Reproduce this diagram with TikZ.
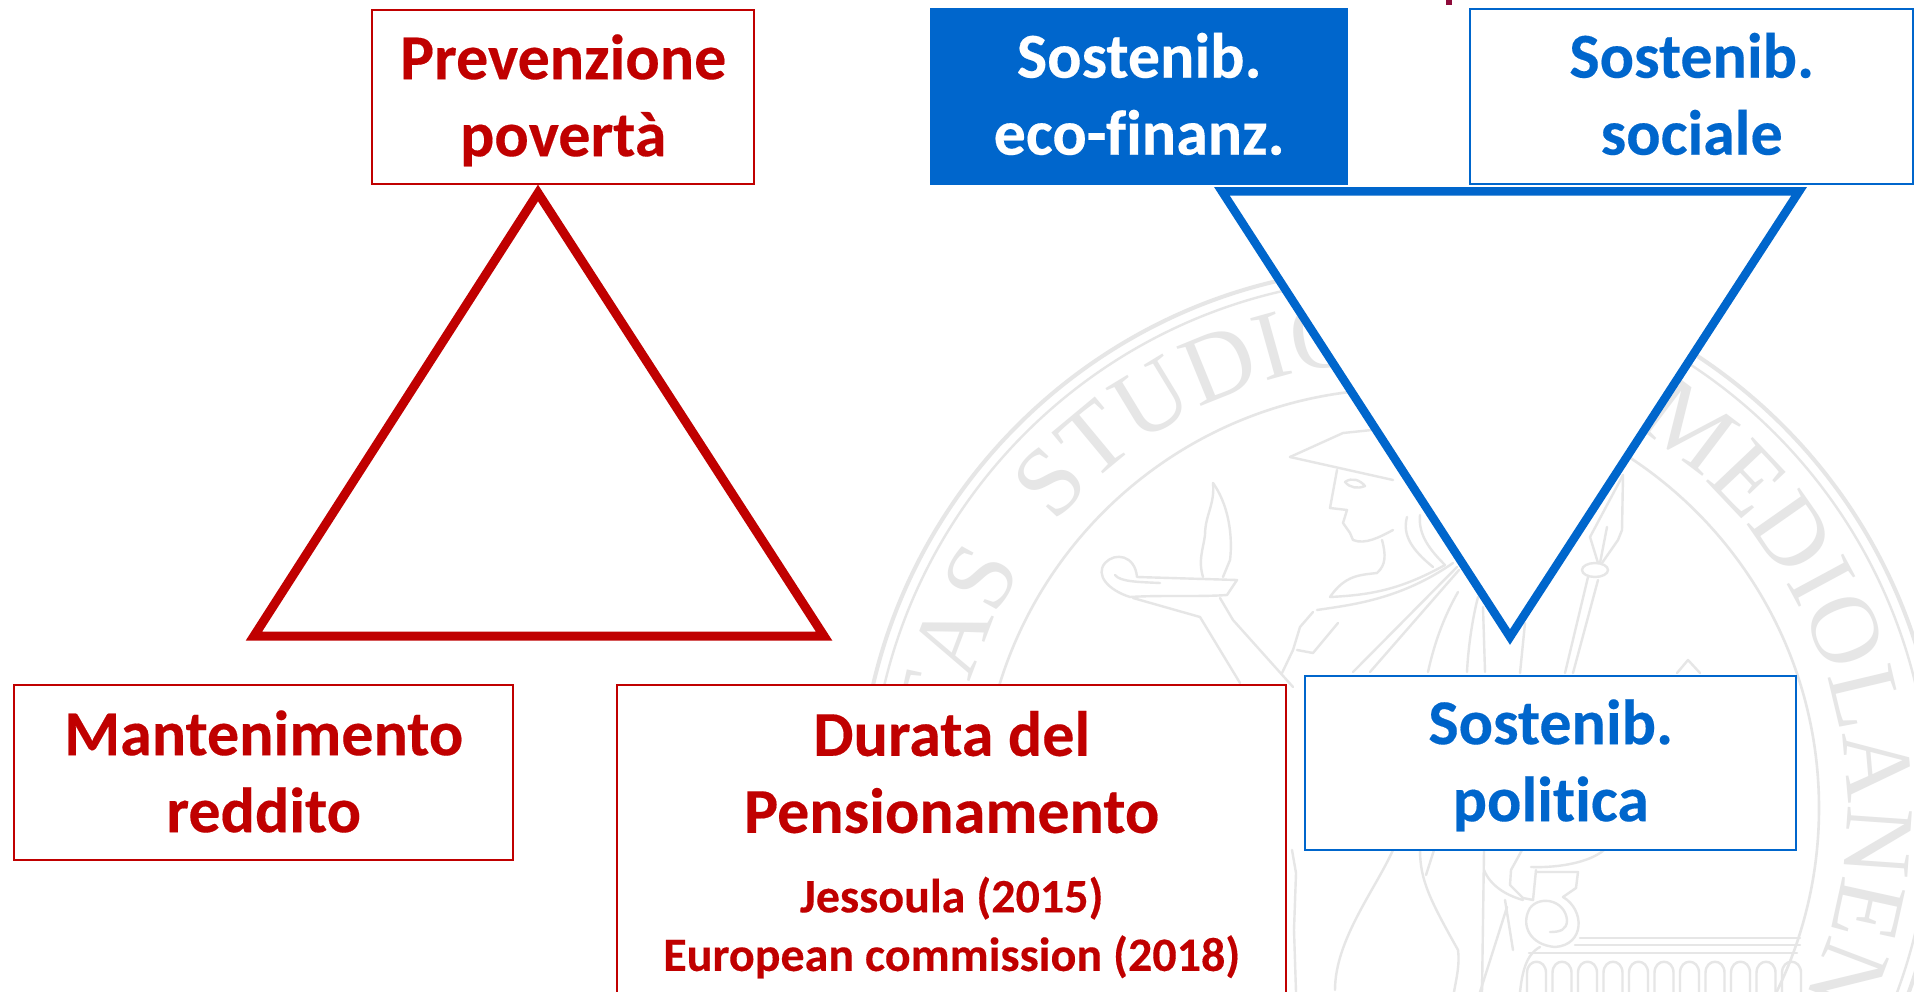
\documentclass[tikz,border=0pt]{standalone}
\usepackage{fontspec}
\setmainfont{Carlito}[Ligatures=NoCommon,BoldFeatures={FakeBold=0.25}]
\newfontfamily\sealfam{Liberation Serif}
\usetikzlibrary{decorations.text}
\definecolor{redc}{HTML}{C00000}
\definecolor{bluec}{HTML}{0066CC}
\definecolor{sealc}{HTML}{E6E6E6}
\definecolor{markc}{HTML}{8E0B3A}
\newcommand{\bigfont}{\fontsize{64}{77}\selectfont\bfseries}
\newcommand{\smallfont}{\fontsize{48}{57}\selectfont\bfseries}
\newcommand{\twolines}[3][50pt]{\rule{0pt}{#1}#2\\#3\rule[-11pt]{0pt}{11pt}}
\newcommand{\sealtext}{\fontsize{98}{98}\sealfam\color{sealc}}
\tikzset{
  x=1pt,y=-1pt,
  box/.style={draw,fill=white,line width=2.4pt,inner sep=0pt,align=center,anchor=north west,font=\bigfont},
  redbox/.style={box,draw=redc,text=redc},
  bluebox/.style={box,draw=bluec,text=bluec},
  tri/.style={miter limit=10,line join=miter,fill=white},
  seal/.style={draw=sealc,line width=2.4pt,line join=round,line cap=round},
}
\begin{document}
\begin{tikzpicture}
\useasboundingbox (0,0) rectangle (1914,992);
\clip (0,0) rectangle (1914,992);
\fill[white] (0,0) rectangle (1914,992);
% watermark seal
\coordinate (sc) at (1400,808);
\draw[sealc,line width=4pt] (sc) circle[radius=541pt];
\draw[sealc,line width=2.4pt] (sc) circle[radius=530pt];
\draw[sealc,line width=2.6pt] (sc) circle[radius=419pt];
\path[decorate,decoration={text along path,text={|\sealtext|UNIVERSITAS}}]
  (sc) ++(230:447pt) arc[start angle=230,end angle=140,radius=447pt];
\path[decorate,decoration={text along path,text={|\sealtext|STUDIORUM}}]
  (sc) ++(140.5:447pt) arc[start angle=140.5,end angle=60,radius=447pt];
\path[decorate,decoration={text along path,text={|\sealtext|MEDIOLANENSIS}}]
  (sc) ++(58.4:447pt) arc[start angle=58.4,end angle=-70,radius=447pt];
% helmet and face
\draw[seal] (1290,457) -- (1343,433) -- (1372,430);
\draw[seal] (1290,457) -- (1393,480);
\draw[seal] (1337,470) -- (1330,508) -- (1347,510) -- (1343,523) -- (1350,533) -- (1353,540) .. controls (1365,545) and (1380,537) .. (1393,530);
\draw[seal] (1345,482) .. controls (1352,477) and (1360,480) .. (1365,486) .. controls (1358,489) and (1350,488) .. (1345,482);
\draw[seal] (1382,540) .. controls (1386,555) and (1386,565) .. (1377,573) .. controls (1360,575) and (1345,575) .. (1330,597);
\draw[seal] (1317,610) .. controls (1350,605) and (1400,600) .. (1453,563);
\draw[seal] (1330,597) .. controls (1370,595) and (1400,590) .. (1445,565);
\draw[seal] (1407,517) .. controls (1402,535) and (1412,550) .. (1433,567);
\draw[seal] (1420,515) .. controls (1418,535) and (1430,550) .. (1445,565);
% lamp
\draw[seal] (1137,577) -- (1237,580) -- (1227,595) .. controls (1200,597) and (1160,595) .. (1130,597) .. controls (1108,590) and (1095,575) .. (1105,563) .. controls (1115,552) and (1135,555) .. (1137,577);
\draw[seal] (1115,575) .. controls (1120,582) and (1140,582) .. (1160,583);
\draw[seal] (1213,483) .. controls (1232,510) and (1232,545) .. (1230,560) -- (1223,577);
\draw[seal] (1213,483) .. controls (1215,505) and (1205,515) .. (1205,535) .. controls (1203,550) and (1198,560) .. (1203,577);
\draw[seal] (1133,598) -- (1200,617) -- (1240,683);
\draw[seal] (1220,598) -- (1233,620) -- (1293,687);
% arm and folds
\draw[seal] (1313,612) -- (1300,627) -- (1293,650) -- (1282,673);
\draw[seal] (1297,650) -- (1313,653) -- (1338,623);
\draw[seal] (1457,567) -- (1353,672);
\draw[seal] (1459,570) -- (1370,672);
\draw[seal] (1458,592) .. controls (1445,615) and (1435,640) .. (1428,672);
\draw[seal] (1478,597) .. controls (1472,620) and (1468,650) .. (1467,672);
\draw[seal] (1483,607) -- (1485,672);
% spear
\draw[seal] (1623,475) -- (1590,537) -- (1598,563);
\draw[seal] (1623,475) -- (1622,530) -- (1618,540) -- (1602,563);
\draw[seal] (1607,527) -- (1600,563);
\draw[seal] (1595,570) ellipse[x radius=13pt,y radius=7pt];
\draw[seal] (1588,577) -- (1565,673);
\draw[seal] (1598,580) -- (1573,673);
\draw[seal] (1525,623) -- (1520,673);
\draw[seal] (1677,673) -- (1688,660) -- (1700,673);
% lower figure
\draw[seal] (1292,850) -- (1296,873) -- (1294,930) -- (1296,992);
\draw[seal] (1393,850) .. controls (1375,890) and (1335,940) .. (1335,990);
\draw[seal] (1420,850) .. controls (1420,880) and (1430,900) .. (1458,950) .. controls (1460,965) and (1456,980) .. (1454,992);
\draw[seal] (1434,850) -- (1426,875);
\draw[seal] (1484,850) -- (1482,992);
\draw[seal] (1507,907) -- (1480,992);
\draw[seal] (1484,870) .. controls (1490,885) and (1505,895) .. (1523,900);
\draw[seal] (1522,850) -- (1511,870) -- (1510,885) -- (1523,898) -- (1533,900) -- (1536,870);
\draw[seal] (1531,867) .. controls (1560,868) and (1590,862) .. (1604,850);
\draw[seal] (1505,900) -- (1513,950);
\draw[seal] (1536,872) -- (1578,872) -- (1576,888) -- (1563,897) .. controls (1585,910) and (1585,945) .. (1555,947) .. controls (1530,945) and (1520,925) .. (1530,908) .. controls (1540,895) and (1565,900) .. (1567,920) .. controls (1567,930) and (1560,932) .. (1550,932);
\draw[seal] (1580,938) -- (1800,938);
\draw[seal] (1575,945) -- (1800,945);
\draw[seal] (1529,953) -- (1797,953);
\draw[seal] (1540,947) .. controls (1525,955) and (1522,975) .. (1520,992);
\foreach \ax in {1527,1552.5,1578,1603.5,1629,1654.5,1680,1705.5,1731,1756.5,1782}{
  \draw[seal] (\ax,992) -- (\ax,973) .. controls (\ax,958) and (\ax+19,958) .. (\ax+19,973) -- (\ax+19,992);
}
% title remnant
\fill[markc] (1446,0) rectangle (1452,5);
% triangles
\draw[tri,line width=9pt,draw=redc] (538,193) -- (254,636) -- (824,636) -- cycle;
\draw[tri,line width=8.5pt,draw=bluec] (1222,191.5) -- (1799,191.5) -- (1510,637) -- cycle;
% boxes
\node[redbox,minimum width=382pt,minimum height=174pt] (prev) at (371,9) {\twolines[52pt]{Prevenzione}{povertà}};
\node[box,draw=bluec,fill=bluec,text=white,minimum width=416pt,minimum height=175pt] (eco) at (930,8) {\twolines{Sostenib.}{eco-finanz.}};
\node[bluebox,minimum width=443pt,minimum height=175pt] (soc) at (1469,8) {\twolines{Sostenib.}{sociale}};
\node[bluebox,minimum width=491pt,minimum height=174pt] (pol) at (1304,675) {\twolines{Sostenib.}{politica}};
\node[redbox,minimum width=499pt,minimum height=175pt] (man) at (13,684) {\twolines[53pt]{Mantenimento}{reddito}};
\node[redbox,minimum width=669pt,minimum height=319pt] (dur) at (616,684) {Durata del\\Pensionamento\\[2.5pt]{\smallfont Jessoula (2015)}\\[-18.4pt]{\smallfont European commission (2018)}};
\end{tikzpicture}
\end{document}
